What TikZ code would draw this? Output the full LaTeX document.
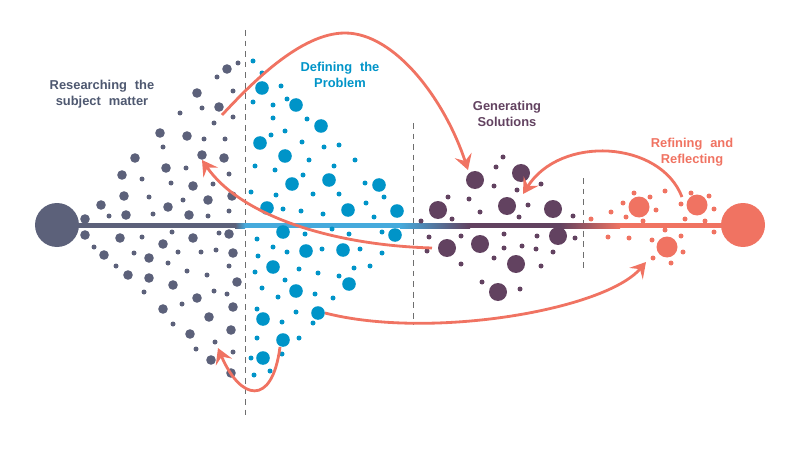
\documentclass[tikz,border=0pt]{standalone}
\usepackage{fontspec}
\setmainfont{Liberation Sans}[WordSpace=2.2]
\usetikzlibrary{arrows.meta}

\definecolor{slate}{RGB}{92,97,122}
\definecolor{slatetext}{RGB}{78,88,112}
\definecolor{sky}{RGB}{0,148,200}
\definecolor{skyline}{RGB}{70,170,220}
\definecolor{plum}{RGB}{98,66,96}
\definecolor{coral}{RGB}{240,115,98}
\definecolor{divgrey}{RGB}{110,110,110}

\tikzset{
    stagelabel/.style={font=\bfseries\fontsize{11}{13.6}\selectfont, align=center},
    jump/.style={draw=coral, line width=2.4pt, -{Stealth[length=13pt,width=15pt,inset=5pt]}},
    divider/.style={draw=divgrey, line width=0.8pt, dash pattern=on 5pt off 4pt},
}

\begin{document}
\begin{tikzpicture}[x=0.03cm, y=-0.03cm]
    \useasboundingbox (0,0) rectangle (800,450);

    % Stage dividers
    \draw[divider] (245,30) -- (245,420);
    \draw[divider] (413,123) -- (413,325);
    \draw[divider] (583,178) -- (583,272);

    % Process line
    \coordinate (lineA) at (57,223);
    \coordinate (lineB) at (235,228);
    \coordinate (lineC) at (245,223);
    \coordinate (lineD) at (400,228);
    \coordinate (lineE) at (470,223);
    \coordinate (lineF) at (560,228);
    \coordinate (lineG) at (620,223);
    \coordinate (lineH) at (743,228);
    \fill[slate] (lineA) rectangle (lineB);
    \shade[left color=slate, right color=skyline] (235,223) rectangle (245,228);
    \fill[skyline] (lineC) rectangle (lineD);
    \shade[left color=skyline, right color=plum] (400,223) rectangle (470,228);
    \fill[plum] (lineE) rectangle (lineF);
    \shade[left color=plum, right color=coral] (560,223) rectangle (620,228);
    \fill[coral] (lineG) rectangle (lineH);

    % End points
    \fill[slate] (57,225) circle (22);
    \fill[coral] (743,225) circle (22);

    % Researching the subject matter
    \foreach \x/\y in {238/63,217/77,233/91,202/108,233/117,180/113,214/123,204/139,225/139,163/147,
        186/168,229/174,142/179,171/183,213/184,149/197,183/200,229/211,109/216,153/214,208/216,
        142/237,172/232,219/233,94/247,134/253,178/252,201/252,216/250,116/266,168/263,187/271,
        207/275,229/266,144/292,214/291,227/294,182/304,173/324,215/342,196/349,233/352}
        \fill[slate] (\x,\y) circle (2.5);
    \foreach \x/\y in {227/69,197/93,219/107,160/133,187/136,202/155,224/158,135/158,166/168,122/175,
        193/186,232/196,124/196,208/200,101/205,168/207,126/215,189/215,85/219,
        85/235,120/238,193/238,229/234,104/255,149/258,163/244,233/253,128/275,149/278,237/282,
        173/285,197/298,233/307,163/309,209/317,231/330,190/334,211/360,231/373}
        \fill[slate] (\x,\y) circle (4.8);

    % Defining the problem
    \foreach \x/\y in {253/61,262/73,281/86,253/102,273/105,287/99,273/118,307/119,271/135,285/131,
        302/142,324/147,339/145,309/160,255/166,275/170,334/166,355/160,303/175,365/183,251/192,
        276/195,313/194,339/194,384/197,283/209,301/211,323/214,366/203,374/217,
        305/234,332/229,349/234,382/232,257/239,273/247,287/252,322/249,360/249,382/253,258/256,
        299/269,318/273,339/276,354/268,370/266,255/272,285/280,262/288,278/297,315/294,333/298,
        257/309,296/312,313/323,282/322,257/338,299/338,251/358,282/354,270/371,254/375}
        \fill[sky] (\x,\y) circle (2.5);
    \foreach \x/\y in {262/88,296/105,321/126,260/143,285/156,292/184,329/180,379/185,267/208,348/210,
        397/211,283/232,395/235,306/251,343/250,273/267,349/284,296/291,318/313,263/319,283/340,263/358}
        \fill[sky] (\x,\y) circle (6.8);

    % Generating solutions
    \foreach \x/\y in {503/157,496/167,494/186,517/190,541/184,448/197,469/199,528/205,452/219,480/212,
        421/221,573/216,519/217,429/237,427/251,461/236,504/234,504/248,494/258,522/246,537/236,
        536/249,575/238,553/252,541/266,461/264,482/282,520/289}
        \fill[plum] (\x,\y) circle (2.5);
    \foreach \x/\y in {521/173,475/180,507/206,553/209,438/210,447/248,480/244,516/264,558/236,498/292}
        \fill[plum] (\x,\y) circle (9);

    % Refining and reflecting
    \foreach \x/\y in {591/219,611/212,623/203,634/193,650/197,656/210,626/217,643/221,665/191,681/204,
        691/193,709/196,714/209,685/219,705/221,608/237,629/238,652/240,665/230,681/236,683/252,
        653/258,671/263,714/232}
        \fill[coral] (\x,\y) circle (2.5);
    \foreach \x/\y in {639/207,697/205,667/247}
        \fill[coral] (\x,\y) circle (10.5);

    % Labels
    \node[stagelabel, text=slatetext] (research) at (102,94) {Researching the\\subject matter};
    \node[stagelabel, text=sky] (define) at (340,75) {Defining the\\Problem};
    \node[stagelabel, text=plum] (generate) at (507,114) {Generating\\Solutions};
    \node[stagelabel, text=coral] (refine) at (692,152) {Refining and\\Reflecting};

    % Iteration arrows
    \coordinate (researchOut) at (222,115);
    \coordinate (top) at (345,33);
    \coordinate (solveIn) at (468,170);
    \coordinate (solveOut) at (432,248);
    \coordinate (researchIn) at (202,160);
    \coordinate (defineOut) at (280,347);
    \coordinate (researchLow) at (218,348);
    \coordinate (defineLow) at (325,313);
    \coordinate (refineIn) at (646,262);
    \coordinate (refineOut) at (682,197);
    \coordinate (solveTop) at (523,194);

    \draw[jump] (researchOut) .. controls (250,85) and (300,33) .. (top)
        .. controls (395,33) and (445,100) .. (solveIn);
    \draw[jump] (solveOut) .. controls (330,245) and (240,215) .. (researchIn);
    \draw[jump] (defineOut) .. controls (272,408) and (240,400) .. (researchLow);
    \draw[jump] (defineLow) .. controls (430,340) and (605,310) .. (refineIn);
    \draw[jump] (refineOut) .. controls (660,140) and (560,135) .. (solveTop);
\end{tikzpicture}
\end{document}
